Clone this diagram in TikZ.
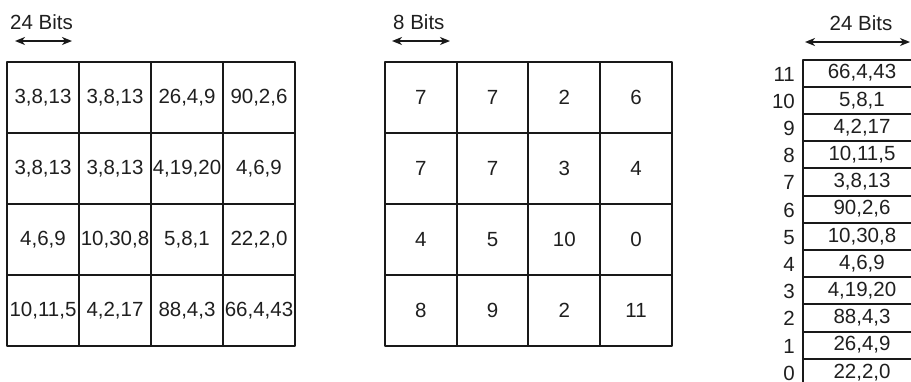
\documentclass[tikz,border=0pt]{standalone}
\usepackage{fontspec}
\setmainfont{Liberation Sans}
\usetikzlibrary{arrows.meta}

\begin{document}
\begin{tikzpicture}[x=1pt,y=-1pt, font=\fontsize{20.5}{23}\selectfont, line cap=round, line join=round,
  cell/.style={draw=black!90,line width=2pt,minimum width=72pt,minimum height=71pt,inner sep=0pt,outer sep=0pt,text=black!88},
  lutcell/.style={draw=black!90,line width=2pt,minimum width=118pt,minimum height=27.2pt,inner sep=0pt,outer sep=0pt,text=black!88},
  dimarrow/.style={draw=black!90,line width=1.6pt,{Stealth[length=10pt,width=8pt,inset=3pt]}-{Stealth[length=10pt,width=8pt,inset=3pt]}}]
\useasboundingbox (0,0) rectangle (911,381);
\clip (0,0) rectangle (911,381);

% Left: true-colour image, one RGB triple per pixel
\node[anchor=west,inner sep=0pt,text=black!88] (imgbits) at (10,22) {24 Bits};
\coordinate (imgl) at (15,41); \coordinate (imgr) at (72,41);
\draw[dimarrow] (imgl) -- (imgr);
\foreach \r/\c/\t in {1/1/{3,8,13},1/2/{3,8,13},1/3/{26,4,9},1/4/{90,2,6},
                      2/1/{3,8,13},2/2/{3,8,13},2/3/{4,19,20},2/4/{4,6,9},
                      3/1/{4,6,9},3/2/{10,30,8},3/3/{5,8,1},3/4/{22,2,0},
                      4/1/{10,11,5},4/2/{4,2,17},4/3/{88,4,3},4/4/{66,4,43}}
  {\node[cell] (img\r\c) at ({7+72*\c-36},{61.7+71*\r-35.5}) {\t};}

% Middle: index image, one 8-bit entry per pixel
\node[anchor=west,inner sep=0pt,text=black!88] (idxbits) at (393,22) {8 Bits};
\coordinate (idxl) at (392,41); \coordinate (idxr) at (450,41);
\draw[dimarrow] (idxl) -- (idxr);
\foreach \r/\c/\t in {1/1/7,1/2/7,1/3/2,1/4/6,
                      2/1/7,2/2/7,2/3/3,2/4/4,
                      3/1/4,3/2/5,3/3/10,3/4/0,
                      4/1/8,4/2/9,4/3/2,4/4/11}
  {\node[cell,minimum width=71.75pt] (idx\r\c) at ({385+71.75*\c-35.9},{61.7+71*\r-35.5}) {\t};}

% Right: colour lookup table
\node[inner sep=0pt,text=black!88] (lutbits) at (861,23) {24 Bits};
\coordinate (lutl) at (805,42); \coordinate (lutr) at (910,42);
\draw[dimarrow] (lutl) -- (lutr);
\foreach \k/\t in {11/{66,4,43},10/{5,8,1},9/{4,2,17},8/{10,11,5},7/{3,8,13},6/{90,2,6},
                   5/{10,30,8},4/{4,6,9},3/{4,19,20},2/{88,4,3},1/{26,4,9},0/{22,2,0}}
  {\node[lutcell] (lut\k) at (862,{73.1+27.2*(11-\k)}) {\t};
   \node[anchor=east,inner sep=0pt,text=black!88] (lutn\k) at (795,{74+27.2*(11-\k)}) {\k};}
\end{tikzpicture}
\end{document}
